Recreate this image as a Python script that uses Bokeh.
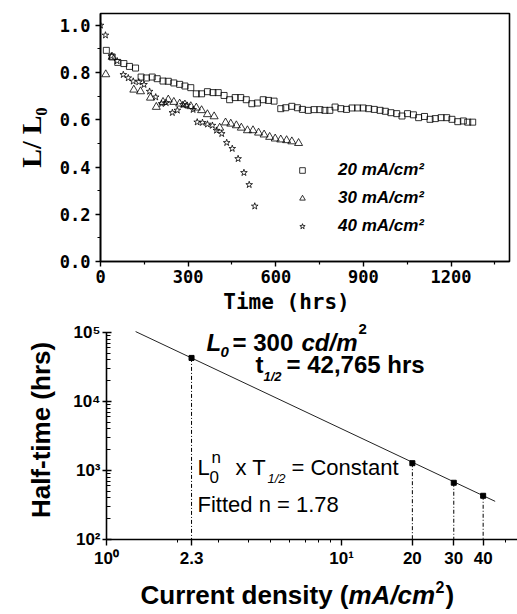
from bokeh.plotting import figure
from bokeh.layouts import column
from bokeh.models import (FixedTicker, NumeralTickFormatter, Legend, LegendItem,
                          Label, Range1d)
from bokeh.embed import file_html
from bokeh.resources import INLINE

# ---------------- top panel data: L/L0 vs time ----------------
t20 = [20, 40, 59, 80, 99, 120, 139, 157, 177, 194, 214, 232, 251, 271, 289, 309,
       328, 346, 366, 385, 403, 423, 442, 461, 480, 499, 518, 537, 557, 575, 594,
       617, 634, 655, 674, 691, 711, 731, 751, 768, 785, 803, 823, 842, 861, 880,
       899, 918, 937, 957, 975, 994, 1014, 1032, 1051, 1071, 1089, 1109, 1128, 1146,
       1166, 1185, 1203, 1223, 1242, 1257, 1274]
r20 = [0.894, 0.866, 0.843, 0.838, 0.826, 0.819, 0.781, 0.777, 0.781, 0.774, 0.764,
       0.763, 0.756, 0.750, 0.743, 0.736, 0.710, 0.710, 0.719, 0.715, 0.715, 0.703,
       0.685, 0.694, 0.694, 0.685, 0.668, 0.671, 0.685, 0.682, 0.679, 0.647, 0.651,
       0.657, 0.651, 0.644, 0.640, 0.643, 0.643, 0.640, 0.640, 0.654, 0.647, 0.644,
       0.650, 0.650, 0.650, 0.647, 0.644, 0.640, 0.636, 0.630, 0.626, 0.616, 0.626,
       0.621, 0.609, 0.614, 0.602, 0.605, 0.609, 0.609, 0.602, 0.592, 0.595, 0.590,
       0.590]

t30 = [18, 40, 114, 137, 171, 191, 214, 232, 251, 271, 289, 309, 328, 346, 366, 389,
       408, 428, 446, 465, 482, 503, 522, 541, 560, 579, 598, 617, 637, 655, 678]
r30 = [0.792, 0.866, 0.727, 0.720, 0.693, 0.654, 0.675, 0.685, 0.675, 0.668, 0.664,
       0.657, 0.651, 0.640, 0.623, 0.614, 0.566, 0.588, 0.583, 0.576, 0.566, 0.555,
       0.555, 0.545, 0.537, 0.527, 0.520, 0.516, 0.513, 0.508, 0.501]

t40 = [0, 17, 37, 57, 78, 95, 112, 131, 149, 168, 189, 209, 225, 246, 263, 282, 297,
       317, 331, 349, 366, 383, 397, 415, 432, 451, 471, 491, 509, 528]
r40 = [1.0, 0.958, 0.870, 0.849, 0.791, 0.777, 0.763, 0.760, 0.749, 0.720, 0.696,
       0.668, 0.672, 0.630, 0.640, 0.664, 0.661, 0.643, 0.590, 0.588, 0.581, 0.576,
       0.555, 0.541, 0.503, 0.478, 0.435, 0.376, 0.325, 0.234]

series_labels = ["20 mA/cm\u00b2", "30 mA/cm\u00b2", "40 mA/cm\u00b2"]
x_ticks_top = [0, 300, 600, 900, 1200]
x_minor_top = [150, 450, 750, 1050, 1350]
y_ticks_top = [0.0, 0.2, 0.4, 0.6, 0.8, 1.0]
y_minor_top = [0.1, 0.3, 0.5, 0.7, 0.9]

# ---------------- bottom panel data: half-time vs current density ----------------
current_density = [2.3, 20, 30, 40]
half_time = [42765, 1276, 664, 430]
fit_x = [1.33, 45]
fit_y = [103000, 357]
x_ticks_bot = [1, 2.3, 10, 20, 30, 40]
x_tick_labels_bot = ["10\u2070", "2.3", "10\u00b9", "20", "30", "40"]
y_ticks_bot = [100, 1000, 10000, 100000]
y_tick_labels_bot = ["10\u00b2", "10\u00b3", "10\u2074", "10\u2075"]


def note(p, text, px, py, size, style="normal", align="left",
         font="Liberation Sans", fx=106, fy=539):
    """Text whose baseline sits at page pixel (px, py); (fx, fy) = page position
    of the frame's bottom-left corner.  Drawn vertically centred."""
    cy = py - 0.35 * size
    p.add_layout(Label(x=px - fx, y=fy - cy, x_units="screen", y_units="screen",
                       text=text, text_font=font, text_font_size=f"{size}px",
                       text_font_style=style, text_align=align,
                       text_baseline="middle", text_color="black"))


def strip(h):
    f = figure(width=517, height=h, output_backend="svg", toolbar_location=None,
               x_range=Range1d(0, 1), y_range=Range1d(0, 1),
               x_axis_location=None, y_axis_location=None,
               min_border_left=0, min_border_right=0, min_border_top=0,
               min_border_bottom=0, frame_align=False)
    f.grid.visible = False
    f.outline_line_color = None
    f.background_fill_color = "white"
    f.border_fill_color = "white"
    return f


# ======================= top figure (page y 0-289) =======================
p1 = figure(width=517, height=289, output_backend="svg", toolbar_location=None,
            x_range=Range1d(0, 1400), y_range=Range1d(0, 1.05),
            min_border_left=100, min_border_right=8, min_border_top=13,
            min_border_bottom=28, frame_align=False)
p1.grid.visible = False
p1.outline_line_color = "black"
p1.outline_line_width = 1.6
p1.outline_line_alpha = 1.0
p1.background_fill_color = "white"
p1.border_fill_color = "white"

s20 = p1.scatter(t20, r20, marker="square", size=6, line_color="black",
                 fill_color=None, line_width=0.8)
s30 = p1.scatter(t30, r30, marker="triangle", size=8, line_color="black",
                 fill_color=None, line_width=0.8)
s40 = p1.scatter(t40, r40, marker="star", size=7, line_color="black",
                 fill_color=None, line_width=0.8)

for ax in (p1.xaxis[0], p1.yaxis[0]):
    ax.axis_line_width = 1.6
    ax.axis_line_color = "black"
    ax.major_tick_line_color = "black"
    ax.minor_tick_line_color = "black"
    ax.major_tick_line_width = 1.4
    ax.minor_tick_line_width = 1.2
    ax.major_tick_in = 0
    ax.major_tick_out = 5
    ax.minor_tick_in = 0
    ax.minor_tick_out = 3
    ax.major_label_text_font = "DejaVu Sans Mono"
    ax.major_label_text_font_style = "bold"
    ax.major_label_text_font_size = "17px"
    ax.major_label_text_color = "black"
p1.xaxis.major_label_standoff = 3
p1.yaxis.major_label_standoff = 5

p1.xaxis.ticker = FixedTicker(ticks=x_ticks_top, minor_ticks=x_minor_top)
p1.yaxis.ticker = FixedTicker(ticks=y_ticks_top, minor_ticks=y_minor_top)
p1.yaxis.formatter = NumeralTickFormatter(format="0.0")
p1.yaxis.axis_label = "L/ L\u2080"
p1.yaxis.axis_label_text_font = "Liberation Serif"
p1.yaxis.axis_label_text_font_style = "bold"
p1.yaxis.axis_label_text_font_size = "28px"
p1.yaxis.axis_label_text_color = "black"
p1.yaxis.axis_label_standoff = 10

legend = Legend(items=[LegendItem(label=series_labels[0], renderers=[s20]),
                       LegendItem(label=series_labels[1], renderers=[s30]),
                       LegendItem(label=series_labels[2], renderers=[s40])],
                location=(195, 25), orientation="vertical",
                glyph_width=14, glyph_height=14, label_height=20, spacing=8,
                label_standoff=29, padding=0, margin=0,
                border_line_color=None, background_fill_alpha=0,
                label_text_font="Liberation Sans", label_text_font_size="17px",
                label_text_font_style="bold italic", label_text_color="black")
p1.add_layout(legend)

# ---------------- strip with the top x-axis title (page y 289-318) ----------------
t1 = strip(29)
note(t1, "Time (hrs)", 286, 309, 21, "bold", align="center",
     font="DejaVu Sans Mono", fx=0, fy=318)

# ======================= bottom figure (page y 318-575) =======================
p2 = figure(width=517, height=257, output_backend="svg", toolbar_location=None,
            x_axis_type="log", y_axis_type="log",
            x_range=Range1d(1, 56), y_range=Range1d(100, 149000),
            min_border_left=106, min_border_right=0, min_border_top=2,
            min_border_bottom=36, frame_align=False)
p2.grid.visible = False
p2.outline_line_color = None
p2.background_fill_color = "white"
p2.border_fill_color = "white"

p2.line(fit_x, fit_y, line_color="#222222", line_width=1)
p2.segment(x0=current_density, y0=half_time, x1=current_density,
           y1=[y_ticks_bot[0]] * len(current_density),
           line_color="black", line_width=1, line_dash="4 2 1 2")
p2.scatter(current_density, half_time, marker="square", size=5, color="black")

xa, ya = p2.xaxis[0], p2.yaxis[0]
for ax in (xa, ya):
    ax.axis_line_width = 1.6
    ax.axis_line_color = "black"
    ax.major_tick_line_color = "black"
    ax.minor_tick_line_color = "black"
    ax.major_tick_line_width = 1.4
    ax.minor_tick_line_width = 1.0
    ax.major_label_text_font = "Liberation Sans"
    ax.major_label_text_font_style = "bold"
    ax.major_label_text_font_size = "17px"
    ax.major_label_text_color = "black"

xa.ticker = FixedTicker(ticks=x_ticks_bot,
                        minor_ticks=[2, 3, 4, 5, 6, 7, 8, 9, 50])
xa.major_label_overrides = dict(zip(x_ticks_bot, x_tick_labels_bot))
xa.major_tick_in = 0
xa.major_tick_out = 6
xa.minor_tick_in = 0
xa.minor_tick_out = 3
xa.major_label_standoff = 3

minor_y = [m * d for d in (100, 1000, 10000) for m in range(2, 10)]
ya.ticker = FixedTicker(ticks=y_ticks_bot, minor_ticks=minor_y)
ya.major_label_overrides = dict(zip(y_ticks_bot, y_tick_labels_bot))
ya.bounds = (y_ticks_bot[0], y_ticks_bot[-1])
ya.major_tick_in = 5
ya.major_tick_out = 4
ya.minor_tick_in = 4
ya.minor_tick_out = 0
ya.major_label_standoff = 2
ya.axis_label = "Half-time (hrs)"
ya.axis_label_text_font = "Liberation Sans"
ya.axis_label_text_font_style = "bold"
ya.axis_label_text_font_size = "26px"
ya.axis_label_text_color = "black"
ya.axis_label_standoff = 14

# L0 = 300 cd/m2
note(p2, "L", 206, 350, 24, "bold italic")
note(p2, "0", 220, 357, 15, "bold italic")
note(p2, "= 300", 232, 350, 24, "bold")
note(p2, "cd/m", 301, 350, 24, "bold italic")
note(p2, "2", 358, 334, 15, "bold")
# t1/2 = 42,765 hrs
note(p2, "t", 255, 372, 24, "bold")
note(p2, "1/2", 263, 381, 13, "bold italic")
note(p2, "= 42,765 hrs", 286, 372, 24, "bold")
# L0^n x T1/2 = Constant
note(p2, "L", 197, 475, 22)
note(p2, "0", 209, 482, 17)
note(p2, "n", 211, 463, 17)
note(p2, "x T", 235, 475, 22)
note(p2, "1/2", 267, 483, 13, "italic")
note(p2, "= Constant", 291, 475, 22)
note(p2, "Fitted n = 1.78", 197, 512, 22)

# ---------------- strip with the bottom x-axis title (page y 575-614) ----------------
t2 = strip(39)
note(t2, "Current density (", 348, 604, 26, "bold", align="right", fx=0, fy=614)
note(t2, "mA/cm", 348, 604, 26, "bold italic", fx=0, fy=614)
note(t2, "2", 435, 592, 16, "bold", fx=0, fy=614)
note(t2, ")", 445, 604, 26, "bold", fx=0, fy=614)

layout = column(p1, t1, p2, t2, spacing=0)
open("out.html", "w").write(file_html(layout, INLINE))
